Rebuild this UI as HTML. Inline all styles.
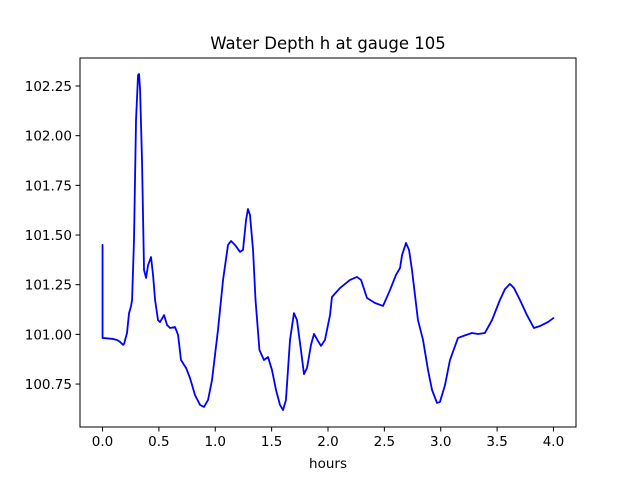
<!DOCTYPE html>
<html><head><meta charset="utf-8"><style>
html,body{margin:0;padding:0;background:#fff}
svg text{font-family:"DejaVu Sans","Liberation Sans",sans-serif;fill:#000}
</style></head><body>
<svg width="640" height="480" viewBox="0 0 640 480" xmlns="http://www.w3.org/2000/svg">
<rect width="640" height="480" fill="#fff"/>
<g id="plot"></g>
<g id="axes"></g>
<text x="328" y="49" font-size="16.5" text-anchor="middle">Water Depth h at gauge 105</text>
<text x="328" y="468" font-size="13.5" text-anchor="middle">hours</text>
</svg>
<script>
const hours=[0,0,0.093,0.129,0.155,0.182,0.191,0.217,0.235,0.253,0.262,0.279,0.297,0.315,0.324,0.333,0.350,0.368,0.386,0.404,0.430,0.448,0.466,0.492,0.510,0.546,0.572,0.599,0.643,0.670,0.696,0.741,0.776,0.820,0.865,0.900,0.936,0.971,1.024,1.069,1.113,1.140,1.175,1.220,1.246,1.273,1.290,1.308,1.335,1.357,1.392,1.432,1.468,1.503,1.539,1.574,1.601,1.627,1.663,1.698,1.725,1.760,1.787,1.814,1.849,1.876,1.911,1.938,1.973,2.018,2.035,2.106,2.195,2.257,2.293,2.346,2.417,2.488,2.550,2.603,2.639,2.657,2.692,2.719,2.745,2.798,2.843,2.887,2.923,2.967,2.993,3.038,3.082,3.153,3.224,3.277,3.330,3.392,3.455,3.525,3.570,3.614,3.650,3.703,3.765,3.827,3.880,3.951,4.0];
const depth=[101.45,100.982,100.977,100.972,100.962,100.947,100.952,101.007,101.107,101.143,101.173,101.475,102.079,102.305,102.31,102.23,101.878,101.324,101.284,101.349,101.389,101.299,101.173,101.072,101.062,101.097,101.047,101.032,101.037,100.997,100.871,100.831,100.780,100.695,100.645,100.635,100.670,100.770,101.022,101.274,101.450,101.470,101.45,101.415,101.425,101.576,101.631,101.601,101.425,101.173,100.921,100.871,100.886,100.821,100.720,100.645,100.619,100.670,100.972,101.107,101.072,100.921,100.800,100.831,100.947,101.002,100.967,100.942,100.972,101.097,101.188,101.233,101.274,101.289,101.274,101.183,101.158,101.143,101.223,101.299,101.334,101.399,101.460,101.425,101.324,101.072,100.972,100.821,100.720,100.655,100.660,100.745,100.871,100.982,100.997,101.007,101.002,101.007,101.072,101.173,101.228,101.254,101.233,101.173,101.097,101.032,101.042,101.062,101.082];
const xTicks=[0,0.5,1,1.5,2,2.5,3,3.5,4];
const xTickLabels=["0.0","0.5","1.0","1.5","2.0","2.5","3.0","3.5","4.0"];
const yTicks=[100.75,101,101.25,101.5,101.75,102,102.25];
const yTickLabels=["100.75","101.00","101.25","101.50","101.75","102.00","102.25"];

const L=80,R=576,T=58,B=427;
const xMin=-0.2,xMax=4.2;
const yMin=102.25-(427-86)/198.7, yMax=102.25+(86-58)/198.7;
const sx=v=>L+(v-xMin)/(xMax-xMin)*(R-L);
const sy=v=>B-(v-yMin)/(yMax-yMin)*(B-T);
const NS="http://www.w3.org/2000/svg";
const plot=document.getElementById('plot'), axes=document.getElementById('axes');
function mk(tag,attrs,parent){const e=document.createElementNS(NS,tag);for(const k in attrs)e.setAttribute(k,attrs[k]);parent.appendChild(e);return e;}

const d=hours.map((h,i)=>(i?'L':'M')+sx(h).toFixed(2)+' '+sy(depth[i]).toFixed(2)).join(' ');
const line=mk('path',{d:d,fill:'none',stroke:'#0000ff','stroke-width':1.8,'stroke-linejoin':'round','stroke-linecap':'round'},plot);



const frame=mk('rect',{x:L,y:T,width:R-L,height:B-T,fill:'none',stroke:'#000','stroke-width':1},axes);



xTicks.forEach((v,i)=>{
  const x=sx(v);
  const t=mk('line',{x1:x,x2:x,y1:B,y2:B+4.5,stroke:'#000','stroke-width':1},axes);
  
  
  const lb=mk('text',{x:x,y:B+19,'font-size':13.5,'text-anchor':'middle'},axes);
  lb.textContent=xTickLabels[i];
  
  
});
yTicks.forEach((v,i)=>{
  const y=sy(v);
  const t=mk('line',{x1:L-4.5,x2:L,y1:y,y2:y,stroke:'#000','stroke-width':1},axes);
  
  
  const lb=mk('text',{x:L-8,y:y+5,'font-size':13.5,'text-anchor':'end'},axes);
  lb.textContent=yTickLabels[i];
  
  
});
</script>
</body></html>
